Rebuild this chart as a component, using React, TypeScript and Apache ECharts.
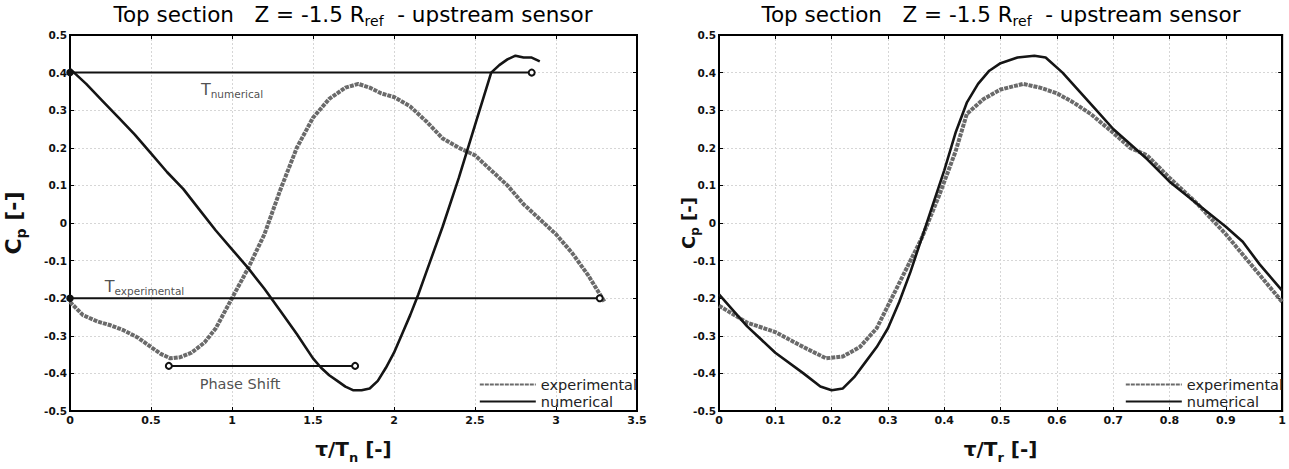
import { useEffect, useRef } from 'react';
import * as echarts from 'echarts';

const FONT = '"DejaVu Sans", Verdana, sans-serif';

// ---- Left panel: time normalised by the numerical period (τ/T_n) ----
const leftExpX = [0, 0.08, 0.17, 0.25, 0.33, 0.42, 0.5, 0.56, 0.62, 0.68, 0.75, 0.83, 0.9, 1.0, 1.1, 1.2, 1.3, 1.4, 1.5, 1.6, 1.7, 1.78, 1.85, 1.92, 2.0, 2.1, 2.2, 2.3, 2.4, 2.5, 2.6, 2.7, 2.8, 2.9, 3.0, 3.1, 3.2, 3.3];
const leftExpY = [-0.21, -0.245, -0.262, -0.272, -0.285, -0.305, -0.33, -0.348, -0.36, -0.357, -0.345, -0.318, -0.28, -0.2, -0.12, -0.03, 0.09, 0.2, 0.28, 0.33, 0.36, 0.37, 0.36, 0.345, 0.335, 0.31, 0.27, 0.225, 0.2, 0.18, 0.14, 0.1, 0.05, 0.01, -0.03, -0.08, -0.14, -0.21];

const leftNumX = [0, 0.1, 0.2, 0.3, 0.4, 0.5, 0.6, 0.7, 0.8, 0.9, 1.0, 1.1, 1.2, 1.3, 1.4, 1.5, 1.55, 1.6, 1.65, 1.7, 1.75, 1.8, 1.85, 1.9, 1.95, 2.0, 2.05, 2.1, 2.15, 2.2, 2.3, 2.4, 2.5, 2.55, 2.6, 2.65, 2.7, 2.75, 2.8, 2.85, 2.9];
const leftNumY = [0.41, 0.37, 0.325, 0.28, 0.235, 0.185, 0.135, 0.09, 0.035, -0.02, -0.07, -0.12, -0.175, -0.235, -0.295, -0.36, -0.385, -0.405, -0.42, -0.435, -0.445, -0.445, -0.44, -0.42, -0.385, -0.345, -0.295, -0.245, -0.19, -0.13, -0.01, 0.12, 0.26, 0.33, 0.4, 0.42, 0.435, 0.445, 0.44, 0.44, 0.43];

// Period / phase-shift markers on the left panel: [start, end] and level
const tNumericalSpan = [0, 2.85];
const tNumericalLevel = 0.4;
const tExperimentalSpan = [0, 3.27];
const tExperimentalLevel = -0.2;
const phaseShiftSpan = [0.61, 1.76];
const phaseShiftLevel = -0.38;

// ---- Right panel: time normalised by the reference period (τ/T_r) ----
const rightExpX = [0, 0.05, 0.1, 0.15, 0.19, 0.22, 0.25, 0.28, 0.3, 0.33, 0.36, 0.39, 0.42, 0.44, 0.47, 0.5, 0.54, 0.57, 0.6, 0.63, 0.66, 0.7, 0.73, 0.76, 0.8, 0.85, 0.9, 0.95, 1.0];
const rightExpY = [-0.22, -0.265, -0.29, -0.33, -0.36, -0.355, -0.33, -0.28, -0.22, -0.13, -0.04, 0.07, 0.19, 0.29, 0.33, 0.355, 0.37, 0.36, 0.345, 0.32, 0.29, 0.24, 0.2, 0.18, 0.12, 0.05, -0.03, -0.12, -0.21];

const rightNumX = [0, 0.05, 0.1, 0.15, 0.18, 0.2, 0.22, 0.24, 0.26, 0.28, 0.3, 0.32, 0.34, 0.36, 0.38, 0.4, 0.42, 0.44, 0.46, 0.48, 0.5, 0.53, 0.56, 0.58, 0.61, 0.64, 0.67, 0.7, 0.73, 0.76, 0.8, 0.85, 0.9, 0.93, 0.96, 1.0];
const rightNumY = [-0.19, -0.275, -0.345, -0.4, -0.435, -0.445, -0.44, -0.41, -0.37, -0.33, -0.28, -0.21, -0.13, -0.04, 0.05, 0.14, 0.24, 0.32, 0.37, 0.405, 0.425, 0.44, 0.445, 0.44, 0.4, 0.35, 0.3, 0.25, 0.21, 0.17, 0.11, 0.05, -0.01, -0.05, -0.11, -0.18];

const seriesNames = ['experimental', 'numerical'];

const zip = (xs: number[], ys: number[]) => xs.map((x, i) => [x, ys[i]]);

const expLine = { color: '#6a6a6a', width: 4, type: [4, 1] as number[] };
const numLine = { color: '#151515', width: 2.6 };

const tickLabel = { fontFamily: FONT, fontWeight: 'bold' as const, fontSize: 11, color: '#111', margin: 4 };

const subRich = (main: number, sub: number, lh: number) => ({
  b: { fontFamily: FONT, fontWeight: 'bold' as const, fontSize: main, color: '#111', lineHeight: lh },
  s: { fontFamily: FONT, fontWeight: 'bold' as const, fontSize: sub, color: '#111', lineHeight: sub + 2, verticalAlign: 'bottom' as const },
});

function makeXAxis(gridIndex: number, max: number, interval: number, sub: string) {
  return [
    {
      type: 'value', gridIndex, min: 0, max, interval,
      name: `{b|τ/T}{s|${sub}}{b| [-]}`,
      nameLocation: 'middle', nameGap: 23, nameMoveOverlap: false,
      nameTextStyle: { rich: subRich(20, 13, 30) },
      axisLine: { show: true, onZero: false, lineStyle: { color: '#000', width: 2 } },
      axisTick: { show: true, inside: true, length: 4, lineStyle: { color: '#000' } },
      axisLabel: tickLabel,
      splitLine: { show: true, lineStyle: { color: '#d6d6d6', type: [2, 2], width: 1 } },
    },
    {
      type: 'value', gridIndex, min: 0, max, interval, position: 'top',
      axisLine: { show: true, onZero: false, lineStyle: { color: '#000', width: 2 } },
      axisTick: { show: true, inside: true, length: 4, lineStyle: { color: '#000' } },
      axisLabel: { show: false }, splitLine: { show: false },
    },
  ];
}

function makeYAxis(gridIndex: number, nameSize: number, subSize: number, gap: number) {
  return [
    {
      type: 'value', gridIndex, min: -0.5, max: 0.5, interval: 0.1,
      name: '{b|C}{s|p}{b| [-]}',
      nameLocation: 'middle', nameGap: gap, nameRotate: 90, nameMoveOverlap: false,
      nameTextStyle: { rich: subRich(nameSize, subSize, nameSize + 8) },
      axisLine: { show: true, onZero: false, lineStyle: { color: '#000', width: 2 } },
      axisTick: { show: true, inside: true, length: 4, lineStyle: { color: '#000' } },
      axisLabel: { ...tickLabel, fontSize: 10.5, margin: 3 },
      splitLine: { show: true, lineStyle: { color: '#d6d6d6', type: [2, 2], width: 1 } },
    },
    {
      type: 'value', gridIndex, min: -0.5, max: 0.5, interval: 0.1, position: 'right',
      axisLine: { show: true, onZero: false, lineStyle: { color: '#000', width: 2 } },
      axisTick: { show: true, inside: true, length: 4, lineStyle: { color: '#000' } },
      axisLabel: { show: false }, splitLine: { show: false },
    },
  ];
}

function spanSeries(span: number[], level: number, firstFilled: boolean) {
  return {
    type: 'line', xAxisIndex: 0, yAxisIndex: 0, silent: true, z: 5,
    lineStyle: { color: '#111', width: 2 },
    itemStyle: { color: '#111', borderColor: '#111', borderWidth: 1.5 },
    symbolSize: 6,
    data: [
      { value: [span[0], level], symbol: firstFilled ? 'circle' : 'emptyCircle' },
      { value: [span[1], level], symbol: 'emptyCircle' },
    ],
  };
}

const annoRich = {
  t: { fontFamily: FONT, fontSize: 16, color: '#222', lineHeight: 20 },
  s: { fontFamily: FONT, fontSize: 10.5, color: '#222', lineHeight: 12, verticalAlign: 'bottom' as const },
  p: { fontFamily: FONT, fontSize: 14.5, color: '#222', lineHeight: 20 },
};

const titleRich = {
  m: { fontFamily: FONT, fontSize: 21.5, color: '#111', lineHeight: 28 },
  s: { fontFamily: FONT, fontSize: 14, color: '#111', lineHeight: 15, verticalAlign: 'bottom' as const },
};
const titleText = '{m|Top section   Z = -1.5 R}{s|ref}{m|  - upstream sensor}';

export default function App() {
  const ref = useRef<HTMLDivElement>(null);

  useEffect(() => {
    if (!ref.current) return;
    const chart = echarts.init(ref.current, undefined, { renderer: 'svg' });

    const legendBase = {
      data: seriesNames,
      orient: 'vertical',
      selectedMode: false,
      itemWidth: 56,
      itemHeight: 12,
      itemGap: 2,
      align: 'left',
      itemStyle: { opacity: 0 },
      textStyle: { fontFamily: FONT, fontSize: 14.5, color: '#222' },
      padding: 0,
    };

    chart.setOption({
      animation: false,
      backgroundColor: '#fff',
      grid: [
        { left: 70, top: 35, width: 567, height: 377, show: true, borderColor: '#000', borderWidth: 2, backgroundColor: '#fff' },
        { left: 719, top: 35, width: 564, height: 377, show: true, borderColor: '#000', borderWidth: 2, backgroundColor: '#fff' },
      ],
      xAxis: [...makeXAxis(0, 3.5, 0.5, 'n'), ...makeXAxis(1, 1, 0.1, 'r')],
      yAxis: [...makeYAxis(0, 22, 14, 42), ...makeYAxis(1, 18, 12, 18)],
      legend: [
        { ...legendBase, right: 1289 - 637, top: 377 },
        { ...legendBase, right: 1289 - 1283, top: 377 },
      ],
      graphic: [
        { type: 'text', x: 353, y: 14, style: { text: titleText, rich: titleRich, align: 'center', verticalAlign: 'middle' } },
        { type: 'text', x: 1001, y: 14, style: { text: titleText, rich: titleRich, align: 'center', verticalAlign: 'middle' } },
      ],
      series: [
        { name: 'experimental', type: 'line', xAxisIndex: 0, yAxisIndex: 0, symbol: 'none', lineStyle: expLine, itemStyle: { color: expLine.color }, data: zip(leftExpX, leftExpY), z: 3 },
        { name: 'numerical', type: 'line', xAxisIndex: 0, yAxisIndex: 0, symbol: 'none', lineStyle: numLine, itemStyle: { color: numLine.color }, data: zip(leftNumX, leftNumY), z: 4 },
        spanSeries(tNumericalSpan, tNumericalLevel, true),
        spanSeries(tExperimentalSpan, tExperimentalLevel, true),
        spanSeries(phaseShiftSpan, phaseShiftLevel, false),
        {
          type: 'scatter', xAxisIndex: 0, yAxisIndex: 0, symbolSize: 0, silent: true, z: 6,
          itemStyle: { color: '#222' },
          label: { show: true, position: 'inside', color: '#222', rich: annoRich },
          data: [
            { value: [1.0, 0.355], label: { formatter: '{t|T}{s|numerical}' } },
            { value: [0.46, -0.168], label: { formatter: '{t|T}{s|experimental}' } },
            { value: [1.05, -0.428], label: { formatter: '{p|Phase Shift}' } },
          ],
        },
        { name: 'experimental', type: 'line', xAxisIndex: 2, yAxisIndex: 2, symbol: 'none', lineStyle: expLine, itemStyle: { color: expLine.color }, data: zip(rightExpX, rightExpY), z: 3 },
        { name: 'numerical', type: 'line', xAxisIndex: 2, yAxisIndex: 2, symbol: 'none', lineStyle: numLine, itemStyle: { color: numLine.color }, data: zip(rightNumX, rightNumY), z: 4 },
      ],
    });

    return () => chart.dispose();
  }, []);

  return (
    <div
      ref={ref}
      style={{ position: 'fixed', left: 0, top: 0, width: 1289, height: 469, background: '#fff' }}
    />
  );
}
